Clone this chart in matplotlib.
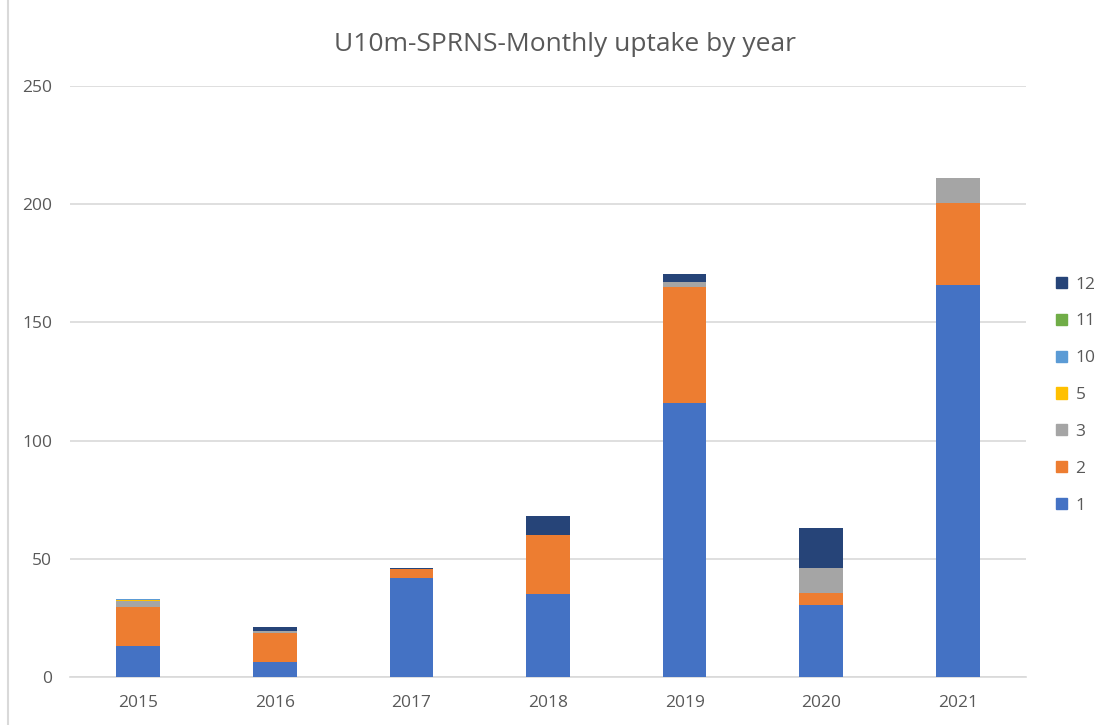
import numpy as np
import matplotlib.pyplot as plt
from matplotlib.patches import Patch
from matplotlib.lines import Line2D

plt.rcParams['font.family'] = ['Open Sans', 'DejaVu Sans']

years = ["2015", "2016", "2017", "2018", "2019", "2020", "2021"]
months = ["1", "2", "3", "5", "10", "11", "12"]
m1 = [13, 6.5, 42, 35, 116, 30.5, 166]
m2 = [16.5, 12, 3.5, 25, 49, 5, 34.5]
m3 = [2.5, 1, 0, 0, 2, 10.5, 10.5]
m5 = [0.7, 0, 0, 0, 0, 0, 0]
m10 = [0.5, 0, 0, 0, 0, 0, 0]
m11 = [0, 0, 0, 0, 0, 0, 0]
m12 = [0, 1.5, 0.5, 8, 3.5, 17, 0]
colors = ["#4472c4", "#ed7d31", "#a5a5a5", "#ffc000", "#5b9bd5", "#70ad47", "#264478"]

series = [m1, m2, m3, m5, m10, m11, m12]

fig = plt.figure(figsize=(11.06, 7.25), dpi=100)
ax = fig.add_axes([0.0633, 0.0662, 0.8644, 0.8152])

x = np.arange(len(years))
bottom = np.zeros(len(years))
for vals, c in zip(series, colors):
    ax.bar(x, vals, 0.32, bottom=bottom, color=c, zorder=3)
    bottom += np.array(vals)

ax.set_xlim(-0.5, 6.5)
ax.set_ylim(0, 250)
ax.set_yticks([0, 50, 100, 150, 200, 250])
ax.set_xticks(x)
ax.set_xticklabels(years)
ax.grid(axis="y", color="#d9d9d9", linewidth=1.2, zorder=0)
for s in ["top", "right", "left"]:
    ax.spines[s].set_visible(False)
ax.spines["bottom"].set_color("#d9d9d9")
ax.spines["bottom"].set_linewidth(1.2)
ax.tick_params(length=0, colors="#595959", labelsize=12.5)
ax.tick_params(axis="y", pad=13)
ax.tick_params(axis="x", pad=13)

fig.text(0.511, 0.939, "U10m-SPRNS-Monthly uptake by year", ha="center", va="center",
         fontsize=19, color="#595959")

# border line at left of chart area
fig.add_artist(Line2D([0.0075, 0.0075], [0, 1], color="#d9d9d9", linewidth=1.5))

handles = [Patch(color=c) for c in colors][::-1]
labels = months[::-1]
fig.legend(handles, labels, loc="center left", bbox_to_anchor=(0.941, 0.455), frameon=False,
           fontsize=12.5, labelcolor="#595959", handlelength=0.6, handleheight=0.6,
           handletextpad=0.5, labelspacing=1.2)

fig.savefig("out.png", dpi=100)
